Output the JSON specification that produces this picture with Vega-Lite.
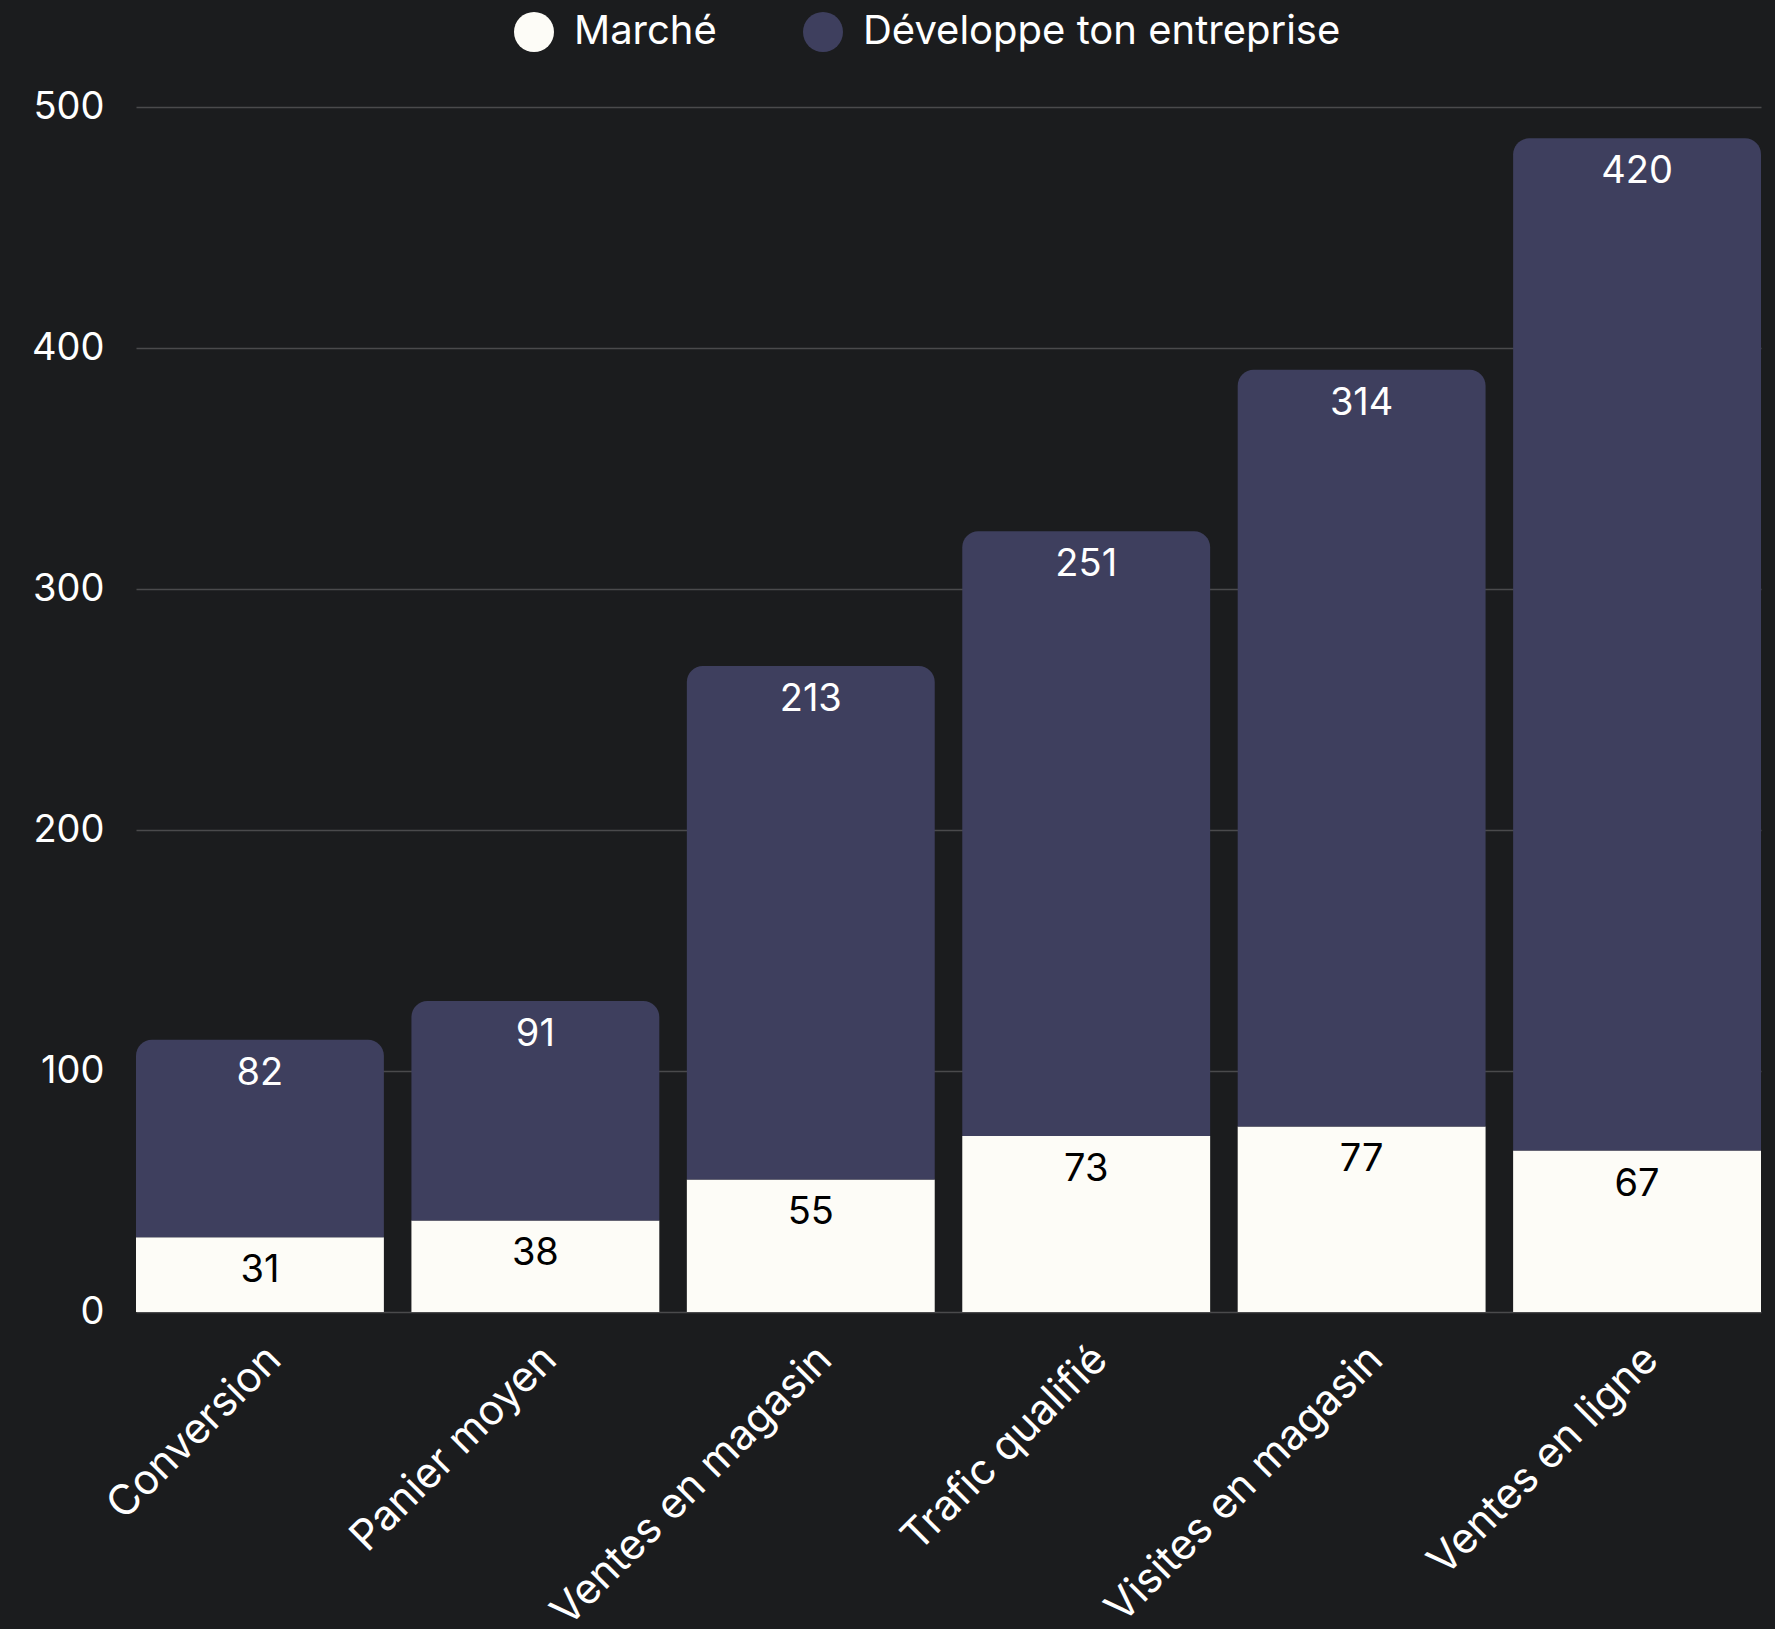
{
  "$schema": "https://vega.github.io/schema/vega-lite/v6.json",
  "width": 1625,
  "height": 1205,
  "autosize": {"type": "none"},
  "padding": {"left": 136, "top": 107, "right": 14, "bottom": 317},
  "background": "#1b1c1e",
  "data": {
    "values": [
      {"cat": "Conversion", "series": "Marché", "value": 31, "ord": 1},
      {"cat": "Conversion", "series": "Développe ton entreprise", "value": 82, "ord": 2},
      {"cat": "Panier moyen", "series": "Marché", "value": 38, "ord": 1},
      {"cat": "Panier moyen", "series": "Développe ton entreprise", "value": 91, "ord": 2},
      {"cat": "Ventes en magasin", "series": "Marché", "value": 55, "ord": 1},
      {"cat": "Ventes en magasin", "series": "Développe ton entreprise", "value": 213, "ord": 2},
      {"cat": "Trafic qualifié", "series": "Marché", "value": 73, "ord": 1},
      {"cat": "Trafic qualifié", "series": "Développe ton entreprise", "value": 251, "ord": 2},
      {"cat": "Visites en magasin", "series": "Marché", "value": 77, "ord": 1},
      {"cat": "Visites en magasin", "series": "Développe ton entreprise", "value": 314, "ord": 2},
      {"cat": "Ventes en ligne", "series": "Marché", "value": 67, "ord": 1},
      {"cat": "Ventes en ligne", "series": "Développe ton entreprise", "value": 420, "ord": 2}
    ]
  },
  "transform": [
    {"stack": "value", "groupby": ["cat"], "sort": [{"field": "ord", "order": "ascending"}], "as": ["v0", "v1"]}
  ],
  "encoding": {
    "x": {
      "field": "cat",
      "type": "nominal",
      "sort": ["Conversion", "Panier moyen", "Ventes en magasin", "Trafic qualifié", "Visites en magasin", "Ventes en ligne"],
      "scale": {"paddingInner": 0.1, "paddingOuter": 0},
      "axis": {
        "title": null,
        "labelAngle": -45,
        "labelFontSize": 42,
        "labelColor": "#ffffff",
        "labelFont": "Inter",
        "labelLimit": 2000,
        "ticks": false,
        "domain": false,
        "labelPadding": 26,
        "grid": false
      }
    }
  },
  "layer": [
    {
      "transform": [{"filter": "datum.series === 'Marché'"}],
      "mark": {"type": "bar"},
      "encoding": {
        "y": {
          "field": "v1",
          "type": "quantitative",
          "scale": {"domain": [0, 500]},
          "axis": {
            "title": null,
            "values": [0, 100, 200, 300, 400, 500],
            "labelFontSize": 38,
            "labelColor": "#ffffff",
            "labelFont": "Inter",
            "labelPadding": 32,
            "ticks": false,
            "domain": false,
            "grid": true,
            "gridColor": "#4a4a4c",
            "gridWidth": 1.5
          }
        },
        "y2": {"field": "v0"},
        "color": {
          "field": "series",
          "type": "nominal",
          "scale": {"domain": ["Marché", "Développe ton entreprise"], "range": ["#fdfcf7", "#3e3f5e"]},
          "legend": {
            "title": null,
            "orient": "none",
            "direction": "horizontal",
            "legendX": 378,
            "legendY": -95,
            "symbolType": "circle",
            "symbolSize": 1600,
            "symbolStrokeWidth": 0,
            "labelFontSize": 40,
            "labelFont": "Inter",
            "labelColor": "#ffffff",
            "labelOffset": 20,
            "columnPadding": 86,
            "labelLimit": 800
          }
        }
      }
    },
    {
      "transform": [{"filter": "datum.series !== 'Marché'"}],
      "mark": {"type": "bar", "cornerRadiusTopLeft": 16, "cornerRadiusTopRight": 16},
      "encoding": {
        "y": {"field": "v1", "type": "quantitative"},
        "y2": {"field": "v0"},
        "color": {"field": "series", "type": "nominal"}
      }
    },
    {
      "transform": [{"filter": "datum.series === 'Marché'"}],
      "mark": {"type": "text", "font": "Inter", "fontSize": 38, "fill": "#000000", "baseline": "alphabetic", "dy": 45, "align": "center"},
      "encoding": {
        "y": {"field": "v1", "type": "quantitative"},
        "text": {"field": "value", "type": "quantitative"}
      }
    },
    {
      "transform": [{"filter": "datum.series !== 'Marché'"}],
      "mark": {"type": "text", "font": "Inter", "fontSize": 38, "fill": "#ffffff", "baseline": "alphabetic", "dy": 45, "align": "center"},
      "encoding": {
        "y": {"field": "v1", "type": "quantitative"},
        "text": {"field": "value", "type": "quantitative"}
      }
    }
  ],
  "config": {
    "view": {"stroke": null}
  }
}
